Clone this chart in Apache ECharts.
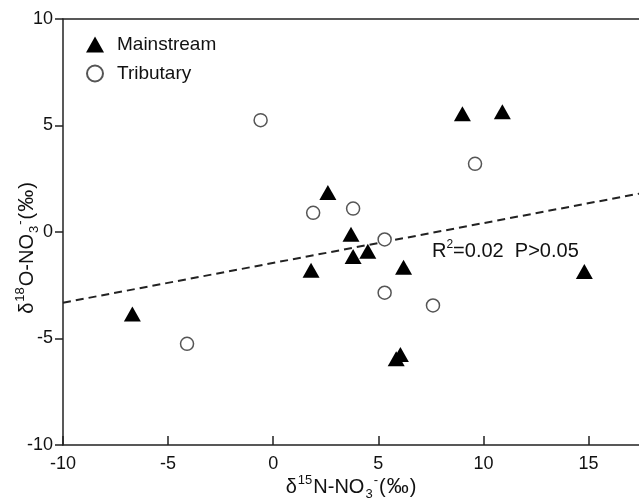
<!DOCTYPE html>
<html>
<head>
<meta charset="utf-8">
<script src="https://cdn.jsdelivr.net/npm/echarts@6/dist/echarts.min.js"></script>
<style>
html,body{margin:0;padding:0;background:#fff;}
#chart{width:639px;height:501px;}
</style>
</head>
<body>
<div id="chart"></div>
<script>
// Mainstream (triangles)
var mainX = [-6.7, 1.8, 2.6, 3.7, 3.8, 4.5, 6.2, 5.85, 6.05, 9.0, 10.9, 14.8];
var mainY = [-3.85, -1.8, 1.85, -0.1, -1.15, -0.9, -1.65, -5.95, -5.75, 5.55, 5.65, -1.85];
// Tributary (open circles)
var tribX = [-4.1, -0.6, 1.9, 3.8, 5.3, 5.3, 7.6, 9.6];
var tribY = [-5.25, 5.25, 0.9, 1.1, -0.35, -2.85, -3.45, 3.2];
// Regression line end points
var fitX = [-10, 17.4];
var fitY = [-3.32, 1.8];
// Axis ticks
var xTicks = [-10, -5, 0, 5, 10, 15];
var yTicks = [-10, -5, 0, 5, 10];
var statsText = ['R', '2', '=0.02  P>0.05'];

function zip(a, b) { return a.map(function (v, i) { return [v, b[i]]; }); }

var FONT = '"Liberation Sans", Arial, sans-serif';
var chart = echarts.init(document.getElementById('chart'), null, {renderer: 'canvas'});

function nameRich() {
  return {
    b: {fontSize: 20, fontFamily: FONT, color: '#111', lineHeight: 28, verticalAlign: 'middle'},
    sup: {fontSize: 13, fontFamily: FONT, color: '#111', lineHeight: 28, verticalAlign: 'top', padding: [1, 1, 0, 1]},
    sub: {fontSize: 13, fontFamily: FONT, color: '#111', lineHeight: 28, verticalAlign: 'bottom', padding: [0, 0, 0, 1]},
    pm: {fontSize: 22, fontFamily: FONT, color: '#111', lineHeight: 28, verticalAlign: 'middle', padding: [0, 1, 0, 1]}
  };
}

var option = {
  animation: false,
  backgroundColor: '#fff',
  grid: {left: 63, right: 0, top: 19, bottom: 56, containLabel: false, outerBoundsMode: 'none'},
  legend: {
    orient: 'vertical',
    left: 81,
    top: 30,
    itemWidth: 18,
    itemHeight: 16,
    itemGap: 10,
    textStyle: {fontSize: 19, fontFamily: FONT, color: '#111', padding: [0, 0, 0, 8]},
    data: ['Mainstream', 'Tributary']
  },
  xAxis: [{
    type: 'value',
    min: -10, max: 17.4, interval: 5,
    position: 'bottom',
    axisLine: {show: true, onZero: false, lineStyle: {color: '#222', width: 1.5}},
    axisTick: {show: true, inside: true, length: 9, lineStyle: {color: '#222', width: 1.5}},
    axisLabel: {
      fontSize: 18, fontFamily: FONT, color: '#111', margin: 10, showMaxLabel: false,
      formatter: function (v) { return xTicks.indexOf(v) >= 0 ? String(v) : ''; }
    },
    splitLine: {show: false},
    name: '{b|δ}{sup|15}{b|N-NO}{sub|3}{sup|-}{b|(}{pm|‰}{b|)}',
    nameLocation: 'middle',
    nameGap: 28,
    nameMoveOverlap: false,
    nameTextStyle: {rich: nameRich()}
  }, {
    type: 'value',
    min: -10, max: 17.4,
    position: 'top',
    axisLine: {show: true, onZero: false, lineStyle: {color: '#222', width: 1.5}},
    axisTick: {show: false},
    axisLabel: {show: false},
    splitLine: {show: false}
  }],
  yAxis: {
    type: 'value',
    min: -10, max: 10, interval: 5,
    axisLine: {show: true, onZero: false, lineStyle: {color: '#222', width: 1.5}},
    axisTick: {show: true, inside: false, length: 8, lineStyle: {color: '#222', width: 1.5}},
    axisLabel: {
      fontSize: 18, fontFamily: FONT, color: '#111', margin: 10,
      formatter: function (v) { return yTicks.indexOf(v) >= 0 ? String(v) : ''; }
    },
    splitLine: {show: false},
    name: '{b|δ}{sup|18}{b|O-NO}{sub|3}{sup|-}{b|(}{pm|‰}{b|)}',
    nameLocation: 'middle',
    nameGap: 22,
    nameMoveOverlap: false,
    nameTextStyle: {rich: nameRich(), padding: [0, 32, 0, 0]}
  },
  series: [{
    name: 'fit',
    type: 'line',
    data: zip(fitX, fitY),
    symbol: 'none',
    silent: true,
    lineStyle: {color: '#222', width: 2, type: [8, 5]},
    z: 1
  }, {
    name: 'Tributary',
    type: 'scatter',
    data: zip(tribX, tribY),
    symbol: 'circle',
    symbolSize: 13,
    itemStyle: {color: '#fff', borderColor: '#555', borderWidth: 1.5, opacity: 1},
    z: 3
  }, {
    name: 'Mainstream',
    type: 'scatter',
    data: zip(mainX, mainY),
    symbol: 'triangle',
    symbolSize: [17, 15],
    itemStyle: {color: '#000', opacity: 1},
    z: 4
  }],
  graphic: [{
    type: 'text',
    left: 432,
    top: 239,
    style: {
      text: '{b|' + statsText[0] + '}{sup|' + statsText[1] + '}{b|' + statsText[2] + '}',
      rich: {
        b: {fontSize: 20, fontFamily: FONT, fill: '#111', lineHeight: 24, verticalAlign: 'middle'},
        sup: {fontSize: 12, fontFamily: FONT, fill: '#111', lineHeight: 24, verticalAlign: 'top'}
      }
    }
  }]
};
chart.setOption(option);
</script>
</body>
</html>
